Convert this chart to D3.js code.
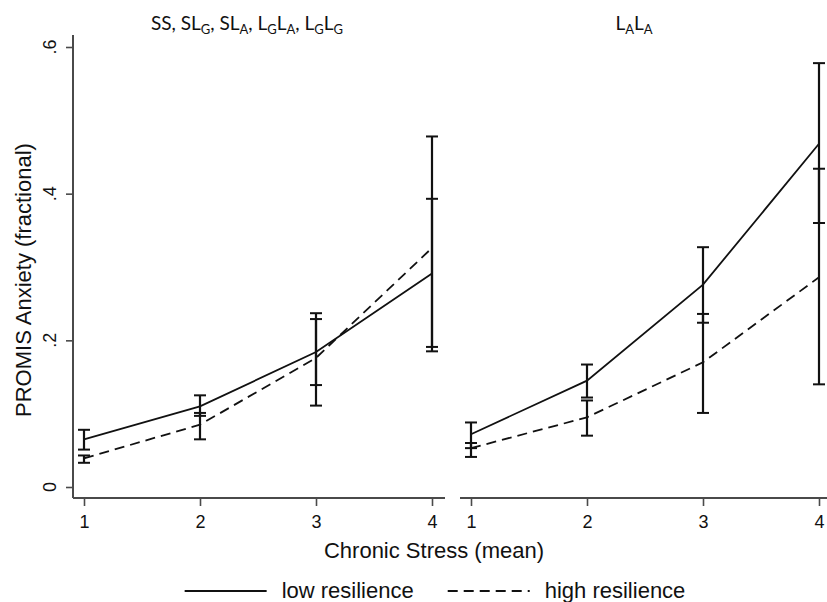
<!DOCTYPE html>
<html>
<head>
<meta charset="utf-8">
<script src="https://cdn.jsdelivr.net/npm/d3@7"></script>
<style>
  body { margin: 0; background: #fff; }
  text { font-family: "Liberation Sans", Arial, sans-serif; fill: #111; }
</style>
</head>
<body>
<script>
// stress levels on the x axis
const stress = [1, 2, 3, 4];
const yTicks = [0, 0.2, 0.4, 0.6];
// "_X" marks a subscript letter
const panelTitles = ["SS, SL_G, SL_A, L_GL_A, L_GL_G", "L_AL_A"];
const seriesNames = ["low resilience", "high resilience"];

// left panel (SS, SLG, ...)
const leftLowMean  = [0.065, 0.110, 0.184, 0.291];
const leftLowLo    = [0.051, 0.097, 0.139, 0.191];
const leftLowHi    = [0.078, 0.125, 0.229, 0.393];
const leftHighMean = [0.039, 0.085, 0.176, 0.326];
const leftHighLo   = [0.033, 0.065, 0.111, 0.185];
const leftHighHi   = [0.043, 0.101, 0.237, 0.478];

// right panel (LALA)
const rightLowMean  = [0.072, 0.145, 0.276, 0.468];
const rightLowLo    = [0.053, 0.122, 0.224, 0.360];
const rightLowHi    = [0.088, 0.167, 0.327, 0.578];
const rightHighMean = [0.053, 0.095, 0.170, 0.286];
const rightHighLo   = [0.041, 0.070, 0.101, 0.140];
const rightHighHi   = [0.060, 0.118, 0.236, 0.434];

const rows = (m, lo, hi) => stress.map((s, i) => ({ s, m: m[i], lo: lo[i], hi: hi[i] }));
const panels = [
  { title: panelTitles[0], box: [73, 445],
    series: [rows(leftLowMean, leftLowLo, leftLowHi), rows(leftHighMean, leftHighLo, leftHighHi)] },
  { title: panelTitles[1], box: [460, 832],
    series: [rows(rightLowMean, rightLowLo, rightLowHi), rows(rightHighMean, rightHighLo, rightHighHi)] }
];

const width = 827, height = 602;
const plotTop = 35, plotBottom = 498;
const axisColor = '#4a4a4a';
const dashes = ['none', '10,6'];

const svg = d3.select('body').append('svg')
  .attr('width', width)
  .attr('height', height);

const yScale = d3.scaleLinear()
  .domain([0, 0.6])
  .range([487, 47]);

const addTitle = (g, str, x, y) => {
  const t = g.append('text')
    .attr('x', x).attr('y', y)
    .attr('text-anchor', 'middle')
    .style('font-family', 'Lato, "Open Sans", sans-serif')
    .style('font-size', '19px');
  const parts = str.split(/(_.)/).filter(p => p.length);
  let shift = 0;
  for (let p of parts) {
    if (p[0] === '_') {
      t.append('tspan').text(p[1]).attr('dy', 4 - shift).style('font-size', '13px');
      shift = 4;
    } else {
      t.append('tspan').text(p).attr('dy', -shift);
      shift = 0;
    }
  }
};

panels.forEach(panel => {
  const [x0, x1] = panel.box;
  const xScale = d3.scaleLinear()
    .domain([1, 4])
    .range([x0 + 11, x1 - 13]);

  const g = svg.append('g');

  // x axis
  g.append('line')
    .attr('x1', x0).attr('x2', x1)
    .attr('y1', plotBottom).attr('y2', plotBottom)
    .attr('stroke', axisColor).attr('stroke-width', 2);

  const xAxisG = g.append('g')
    .attr('transform', `translate(0, ${plotBottom})`)
    .call(d3.axisBottom(xScale).tickValues(stress).tickSize(8).tickPadding(9).tickFormat(d3.format('d')));
  xAxisG.select('.domain').remove();
  xAxisG.selectAll('line').attr('stroke', axisColor).attr('stroke-width', 1.6);
  xAxisG.selectAll('text')
    .attr('fill', '#111')
    .style('font-family', '"Liberation Sans", Arial, sans-serif')
    .style('font-size', '18px');

  addTitle(g, panel.title, (x0 + x1) / 2 - 12, 30);

  const line = d3.line()
    .x(d => xScale(d.s))
    .y(d => yScale(d.m));

  panel.series.forEach((data, i) => {
    g.append('path')
      .datum(data)
      .attr('d', line)
      .attr('fill', 'none')
      .attr('stroke', '#111')
      .attr('stroke-width', 1.8)
      .attr('stroke-dasharray', dashes[i]);

    const bars = g.selectAll(`.bar${i}`).data(data).enter().append('g')
      .attr('class', `bar${i}`);
    bars.append('line')
      .attr('x1', d => xScale(d.s)).attr('x2', d => xScale(d.s))
      .attr('y1', d => yScale(d.lo)).attr('y2', d => yScale(d.hi))
      .attr('stroke', '#111').attr('stroke-width', 2.2);
    ['lo', 'hi'].forEach(k => {
      bars.append('line')
        .attr('x1', d => xScale(d.s) - 6).attr('x2', d => xScale(d.s) + 6)
        .attr('y1', d => yScale(d[k])).attr('y2', d => yScale(d[k]))
        .attr('stroke', '#111').attr('stroke-width', 2);
    });
  });
});

// y axis on the left panel only
svg.append('line')
  .attr('x1', 73).attr('x2', 73)
  .attr('y1', plotTop).attr('y2', plotBottom)
  .attr('stroke', axisColor).attr('stroke-width', 2);

const yAxisG = svg.append('g')
  .attr('transform', 'translate(73, 0)')
  .call(d3.axisLeft(yScale).tickValues(yTicks).tickSize(7).tickFormat(''));
yAxisG.select('.domain').remove();
yAxisG.selectAll('line').attr('stroke', axisColor).attr('stroke-width', 1.6);

const fmtY = v => v === 0 ? '0' : d3.format('.1f')(v).replace(/^0/, '');
svg.selectAll('.ytick-label').data(yTicks).enter().append('text')
  .attr('class', 'ytick-label')
  .attr('transform', d => `translate(56, ${yScale(d)}) rotate(-90)`)
  .attr('text-anchor', 'middle')
  .style('font-size', '18px')
  .text(fmtY);

svg.append('text')
  .attr('transform', 'translate(31, 280) rotate(-90)')
  .attr('text-anchor', 'middle')
  .style('font-size', '22px')
  .text('PROMIS Anxiety (fractional)');

svg.append('text')
  .attr('x', 434).attr('y', 558)
  .attr('text-anchor', 'middle')
  .style('font-size', '22px')
  .text('Chronic Stress (mean)');

// legend
const legend = svg.append('g');
const keyLen = 82, keyGap = 15, itemGap = 34;
let cursor = 0;
seriesNames.forEach((name, i) => {
  const item = legend.append('g').attr('transform', `translate(${cursor}, 0)`);
  item.append('line')
    .attr('x1', 0).attr('x2', keyLen)
    .attr('y1', 591).attr('y2', 591)
    .attr('stroke', '#111').attr('stroke-width', 1.8)
    .attr('stroke-dasharray', dashes[i]);
  const t = item.append('text')
    .attr('x', keyLen + keyGap).attr('y', 598)
    .style('font-size', '22px')
    .text(name);
  cursor += keyLen + keyGap + t.node().getComputedTextLength() + itemGap;
});
const legendWidth = cursor - itemGap;
legend.attr('transform', `translate(${435 - legendWidth / 2}, 0)`);
</script>
</body>
</html>
